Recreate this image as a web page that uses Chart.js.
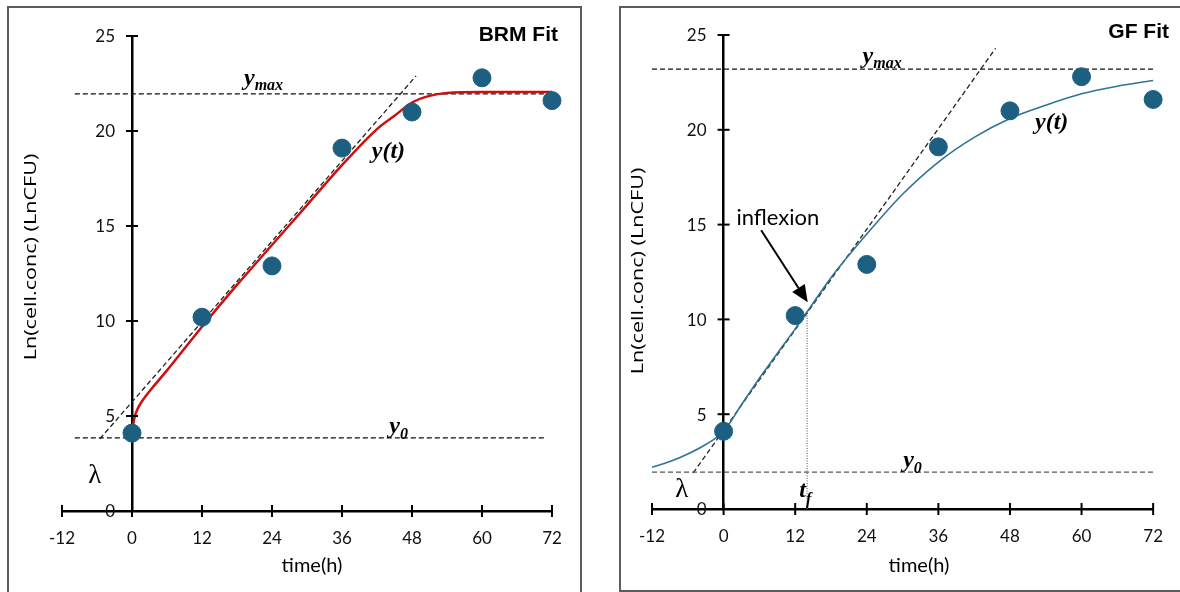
<!DOCTYPE html>
<html>
<head>
<meta charset="utf-8">
<script src="https://cdn.jsdelivr.net/npm/chart.js@4.4.1/dist/chart.umd.min.js"></script>
<style>
  html, body { margin: 0; padding: 0; background: #fff; }
  body { width: 1180px; height: 592px; position: relative; overflow: hidden; }
  .panel { position: absolute; border: 2px solid #5c5c5c; box-sizing: border-box; }
  canvas { position: absolute; top: 0; }
</style>
</head>
<body>
<div class="panel" style="left:7px;top:6px;width:575px;height:600px"></div>
<div class="panel" style="left:619px;top:6px;width:600px;height:586px"></div>
<canvas id="brmChart" width="600" height="592" style="left:0"></canvas>
<canvas id="gfChart" width="580" height="592" style="left:600px"></canvas>
<script>
// observed counts, same for both fits
const hours = [0, 12, 24, 36, 48, 60, 72];
const lnCFU = [4.1, 10.2, 12.9, 19.1, 21.0, 22.8, 21.6];

// BRM fitted curve
const brmTime = [0, 0.5, 1, 2, 3, 6, 12, 18, 24, 30, 36, 42, 45, 48, 51, 54, 60, 66, 72];
const brmFit = [4.2, 5.0, 5.4, 5.9, 6.3, 7.4, 9.7, 11.9, 14.0, 16.1, 18.2, 20.1, 20.8, 21.5, 21.85, 22.0, 22.05, 22.05, 22.05];

// GF fitted curve
const gfTime = [-12, -9, -6, -3, 0, 3, 6, 9, 12, 14, 18, 24, 30, 36, 42, 48, 54, 60, 66, 72];
const gfFit = [2.2, 2.5, 2.9, 3.4, 4.1, 5.5, 6.9, 8.2, 9.5, 10.4, 12.2, 14.5, 16.6, 18.3, 19.6, 20.6, 21.3, 21.9, 22.3, 22.6];

// guide lines
const brmYmaxX = [-9.8, 72.2], brmYmax = [21.95, 21.95];
const brmY0X = [-9.8, 70.8], brmY0 = [3.85, 3.85];
const brmTangentX = [-5.5, 48.7], brmTangentY = [3.8, 22.9];
const gfYmaxX = [-12, 72], gfYmax = [23.2, 23.2];
const gfY0X = [-12, 72], gfY0 = [1.95, 1.95];
const gfTangentX = [-5.1, 45.6], gfTangentY = [1.9, 24.3];
const gfInflexX = [14, 14], gfInflexY = [0, 10.4];

const xTicks = [-12, 0, 12, 24, 36, 48, 60, 72];
const yTicks = [0, 5, 10, 15, 20, 25];

const pts = (xs, ys) => xs.map((x, i) => ({ x, y: ys[i] }));
const SERIF = 'italic bold 24px "Liberation Serif"';
const SUB = 'italic bold 16px "Liberation Serif"';
const TICK_FONT = '17px Lato';

const notes = {
    id: 'notes',
    afterDraw(chart, args, opts) {
        const { ctx } = chart;
        const xs = chart.scales.x, ys = chart.scales.y;
        const x0 = xs.getPixelForValue(0), y0 = ys.getPixelForValue(0);
        ctx.save();
        ctx.strokeStyle = '#000';
        ctx.lineWidth = 2;
        // ticks cross the axis lines
        xTicks.forEach(v => {
            const px = xs.getPixelForValue(v);
            ctx.beginPath(); ctx.moveTo(px, y0 - 6); ctx.lineTo(px, y0 + 6); ctx.stroke();
        });
        ctx.fillStyle = '#111';
        ctx.font = TICK_FONT;
        ctx.textAlign = 'right';
        ctx.textBaseline = 'middle';
        yTicks.forEach(v => {
            const py = ys.getPixelForValue(v);
            ctx.beginPath(); ctx.moveTo(x0 - 6, py); ctx.lineTo(x0 + 6, py); ctx.stroke();
            ctx.fillText(String(v), x0 - 17, py + 1);
        });
        ctx.fillStyle = '#000';
        ctx.textAlign = 'left';
        ctx.textBaseline = 'alphabetic';
        (opts.texts || []).forEach(n => {
            let cx = xs.getPixelForValue(n.x);
            const by = ys.getPixelForValue(n.y);
            n.parts.forEach(p => {
                ctx.font = p.font;
                ctx.fillText(p.t, cx, by + (p.dy || 0));
                cx += ctx.measureText(p.t).width;
            });
        });
        (opts.arrows || []).forEach(a => {
            const sx = xs.getPixelForValue(a.from[0]), sy = ys.getPixelForValue(a.from[1]);
            const ex = xs.getPixelForValue(a.to[0]), ey = ys.getPixelForValue(a.to[1]);
            const ang = Math.atan2(ey - sy, ex - sx);
            const hl = 17, hw = 7.5;
            const bx = ex - hl * Math.cos(ang), by = ey - hl * Math.sin(ang);
            ctx.lineWidth = 2;
            ctx.beginPath(); ctx.moveTo(sx, sy); ctx.lineTo(bx, by); ctx.stroke();
            ctx.beginPath();
            ctx.moveTo(ex, ey);
            ctx.lineTo(bx + hw * Math.sin(ang), by - hw * Math.cos(ang));
            ctx.lineTo(bx - hw * Math.sin(ang), by + hw * Math.cos(ang));
            ctx.closePath(); ctx.fill();
        });
        // titles
        ctx.font = 'bold 21px "Liberation Sans"';
        ctx.textAlign = 'right';
        ctx.fillText(opts.title, opts.titlePos[0], opts.titlePos[1]);
        ctx.textAlign = 'center';
        ctx.textBaseline = 'middle';
        ctx.font = '20px Lato';
        ctx.fillText('time(h)', opts.xTitlePos[0], opts.xTitlePos[1]);
        ctx.translate(opts.yTitlePos[0], opts.yTitlePos[1]);
        ctx.rotate(-Math.PI / 2);
        ctx.scale(1.27, 1);
        ctx.font = '17px "Open Sans"';
        ctx.fillText('Ln(cell.conc) (LnCFU)', 0, 0);
        ctx.restore();
    }
};

function axes() {
    return {
        x: {
            type: 'linear', min: -12, max: 72,
            position: { y: 0 },
            grid: { display: false, drawTicks: false },
            border: { display: true, color: '#000', width: 2.5 },
            ticks: { stepSize: 12, color: '#111', font: { family: 'Lato', size: 17 }, padding: 17, maxRotation: 0 }
        },
        y: {
            type: 'linear', min: 0, max: 25,
            position: { x: 0 },
            grid: { display: false, drawTicks: false },
            border: { display: true, color: '#000', width: 2.5 },
            ticks: { stepSize: 5, display: false }
        }
    };
}

const dash = (data, color, d) => ({
    data, showLine: true, borderColor: color, borderWidth: 1.3, borderDash: d || [5, 3],
    pointRadius: 0, fill: false, order: 3, clip: false
});
const dots = () => ({
    data: pts(hours, lnCFU), showLine: false, pointRadius: 9,
    backgroundColor: '#1c5f80', borderColor: '#1c5f80', order: 0, clip: false
});

new Chart(document.getElementById('brmChart'), {
    type: 'scatter',
    data: {
        datasets: [
            dots(),
            { data: pts(brmTime, brmFit), showLine: true, borderColor: '#cc1010', borderWidth: 2.5,
              pointRadius: 0, cubicInterpolationMode: 'monotone', order: 1, clip: false },
            dash(pts(brmYmaxX, brmYmax), '#111'),
            dash(pts(brmY0X, brmY0), '#111'),
            dash(pts(brmTangentX, brmTangentY), '#222')
        ]
    },
    options: {
        responsive: false, animation: false, devicePixelRatio: 1,
        layout: { padding: { left: 62, right: 48, top: 36, bottom: 81 } },
        scales: axes(),
        plugins: {
            legend: { display: false }, tooltip: { enabled: false },
            notes: {
                title: 'BRM Fit', titlePos: [558, 41], xTitlePos: [312, 566], yTitlePos: [31, 257],
                texts: [
                    { x: 19.2, y: 22.4, parts: [{ t: 'y', font: SERIF }, { t: 'max', font: SUB, dy: 5 }] },
                    { x: 41.1, y: 18.6, parts: [{ t: 'y(t)', font: SERIF }] },
                    { x: 44.1, y: 4.1, parts: [{ t: 'y', font: SERIF }, { t: '0', font: SUB, dy: 6 }] },
                    { x: -7.5, y: 1.5, parts: [{ t: 'λ', font: '27px "Liberation Serif"' }] }
                ]
            }
        }
    },
    plugins: [notes]
});

new Chart(document.getElementById('gfChart'), {
    type: 'scatter',
    data: {
        datasets: [
            dots(),
            { data: pts(gfTime, gfFit), showLine: true, borderColor: '#2f7396', borderWidth: 1.6,
              pointRadius: 0, cubicInterpolationMode: 'monotone', order: 1, clip: false },
            dash(pts(gfYmaxX, gfYmax), '#111'),
            dash(pts(gfY0X, gfY0), '#555'),
            dash(pts(gfTangentX, gfTangentY), '#222'),
            dash(pts(gfInflexX, gfInflexY), '#777', [1, 1.5])
        ]
    },
    options: {
        responsive: false, animation: false, devicePixelRatio: 1,
        layout: { padding: { left: 52, right: 23, top: 35, bottom: 83 } },
        scales: axes(),
        plugins: {
            legend: { display: false }, tooltip: { enabled: false },
            notes: {
                title: 'GF Fit', titlePos: [569, 38], xTitlePos: [319, 566], yTitlePos: [38, 271],
                texts: [
                    { x: 23.3, y: 23.5, parts: [{ t: 'y', font: SERIF }, { t: 'max', font: SUB, dy: 5 }] },
                    { x: 52.2, y: 20.05, parts: [{ t: 'y(t)', font: SERIF }] },
                    { x: 30.1, y: 2.2, parts: [{ t: 'y', font: SERIF }, { t: '0', font: SUB, dy: 6 }] },
                    { x: -8.1, y: 0.63, parts: [{ t: 'λ', font: '27px "Liberation Serif"' }] },
                    { x: 12.7, y: 0.63, parts: [{ t: 't', font: SERIF }, { t: 'f', font: SUB, dy: 7 }] },
                    { x: 2.15, y: 15.0, parts: [{ t: 'inflexion', font: '22px Lato' }] }
                ],
                arrows: [{ from: [6.3, 14.7], to: [14.1, 10.9] }]
            }
        }
    },
    plugins: [notes]
});
</script>
</body>
</html>
